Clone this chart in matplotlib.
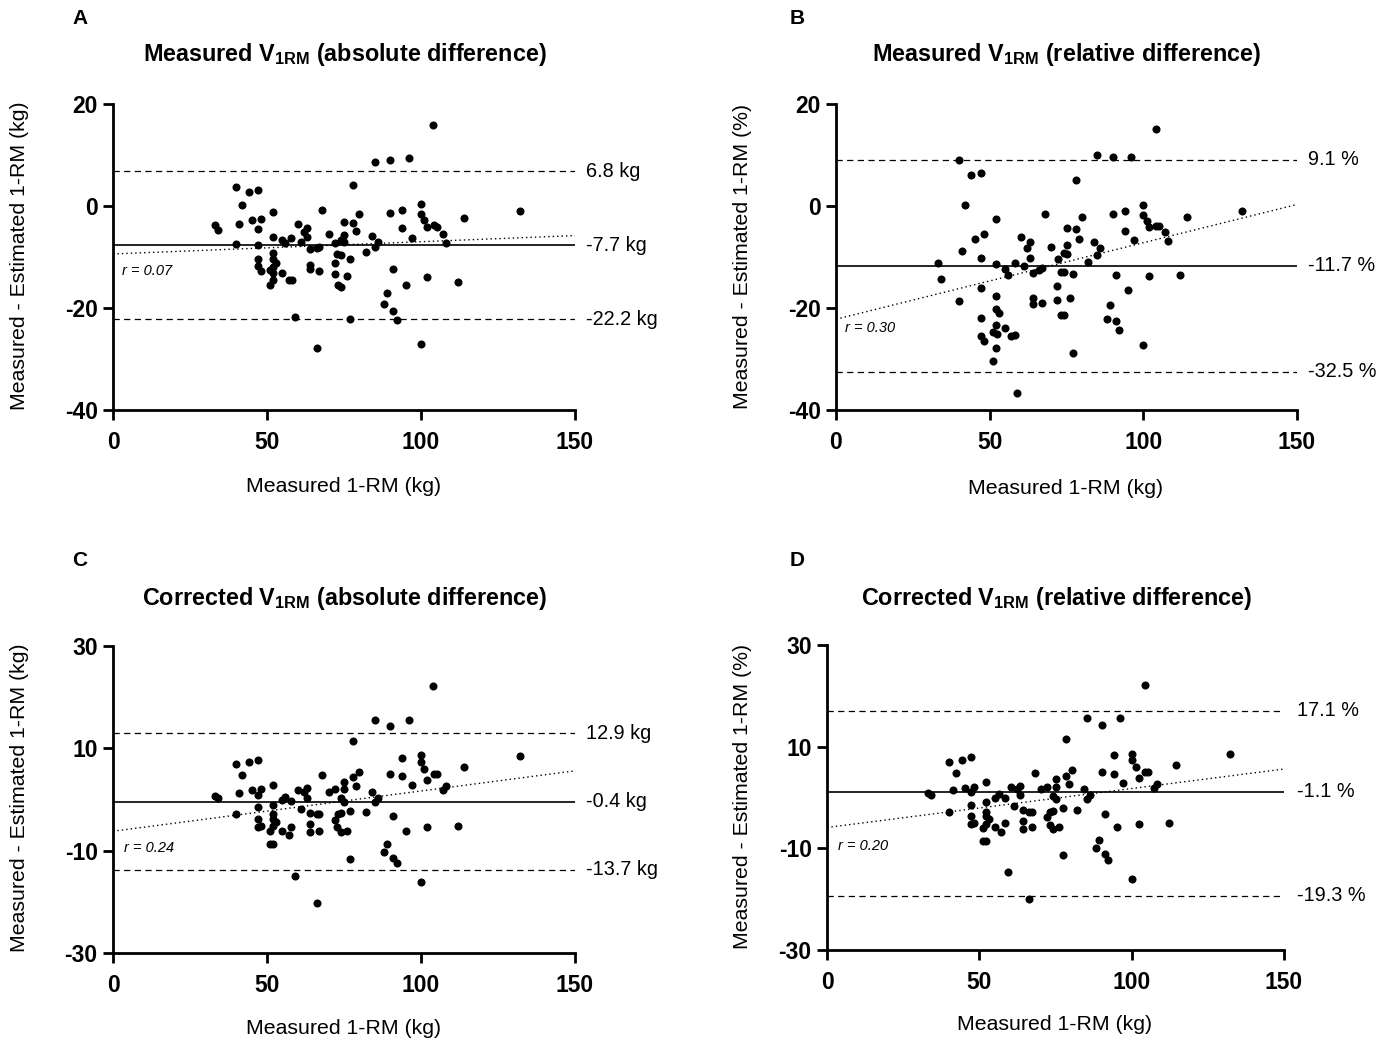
import matplotlib
matplotlib.use('Agg')
import matplotlib.pyplot as plt

plt.rcParams['font.family'] = ['Liberation Sans', 'DejaVu Sans']
plt.rcParams['mathtext.fontset'] = 'custom'
plt.rcParams['mathtext.rm'] = 'Liberation Sans'
plt.rcParams['mathtext.bf'] = 'Liberation Sans:bold'
plt.rcParams['axes.unicode_minus'] = False

# ---- data ----
# A: measured V1RM, absolute difference (kg)
a_x = [85.1, 39.9, 44.0, 47.1, 78.0, 42.0, 52.0, 68.0, 80.0, 33.1, 34.0, 41.0, 45.0, 48.1, 47.1, 60.1,
       63.0, 62.0, 70.0, 75.1, 78.0, 79.0, 75.1, 84.0, 52.0, 54.9, 56.0, 57.9, 61.0, 63.0, 40.0, 47.1,
       64.0, 66.1, 67.0, 72.1, 74.0, 75.1, 85.1, 86.1, 52.0, 47.1, 52.0, 52.9, 72.8, 74.0, 76.9, 82.0,
       47.1, 48.1, 51.1, 52.0, 51.8, 64.0, 64.0, 67.0, 72.1, 55.0, 72.1, 76.1, 52.0, 51.1, 57.1, 58.1,
       72.9, 74.0, 59.1, 76.9, 66.1,
       104.0, 90.0, 96.1, 90.0, 93.9, 100.0, 100.0, 101.1, 102.1, 104.1, 105.1, 107.0, 108.1, 114.0,
       132.0, 93.9, 97.0, 91.0, 95.0, 102.1, 112.0, 89.1, 88.0, 91.0, 92.1, 100.0]
a_y = [8.7, 3.8, 2.8, 3.2, 4.1, 0.2, -1.1, -0.8, -1.6, -3.7, -4.8, -3.5, -2.8, -2.5, -4.6, -3.5,
       -4.3, -5.1, -5.4, -3.1, -3.4, -5.0, -5.6, -5.9, -6.0, -6.7, -7.3, -6.3, -7.1, -6.1, -7.5, -7.6,
       -8.4, -8.3, -8.0, -7.3, -6.7, -7.0, -8.0, -7.0, -9.3, -10.3, -10.3, -11.2, -9.4, -9.6, -10.3, -9.0,
       -11.8, -12.7, -12.5, -13.1, -11.9, -11.6, -12.3, -12.7, -11.2, -13.1, -13.3, -13.7, -14.5, -15.5, -14.6, -14.6,
       -15.5, -15.9, -21.8, -22.2, -27.8,
       15.9, 9.0, 9.4, -1.3, -0.8, 0.3, -1.5, -2.8, -4.1, -3.8, -4.1, -5.4, -7.3, -2.4,
       -1.0, -4.4, -6.3, -12.3, -15.5, -14.0, -14.9, -17.1, -19.3, -20.5, -22.3, -27.1]

# B: measured V1RM, relative difference (%)
b_x = [85.0, 40.1, 44.0, 47.1, 78.1, 42.1, 52.1, 68.1, 80.1, 45.1, 48.0, 41.0, 47.1, 60.1, 63.0, 62.0,
       63.1, 70.1, 72.1, 75.1, 75.1, 74.1, 75.2, 78.1, 79.1, 84.1, 86.0, 85.0, 82.0,
       33.1, 34.2, 40.1, 47.1, 47.1, 47.1, 48.2, 52.1, 52.1, 53.1, 52.1, 51.1, 52.3, 55.1, 57.0, 58.1,
       52.1, 51.1, 59.0, 52.1, 55.1, 56.1, 58.1, 61.1, 64.1, 66.1, 67.0, 64.1, 64.1, 67.0, 72.0, 72.0,
       73.1, 74.1, 77.0, 76.0, 73.1, 74.1, 77.0,
       104.0, 90.0, 96.0, 132.0, 114.1, 100.0, 100.0, 101.1, 102.0, 104.0, 105.1, 107.1, 108.0, 90.0,
       94.0, 94.0, 97.0, 91.0, 102.0, 111.9, 95.0, 89.1, 88.1, 91.0, 92.1, 100.0]
b_y = [10.0, 9.1, 6.1, 6.5, 5.0, 0.1, -2.5, -1.6, -2.2, -6.5, -5.4, -8.8, -10.2, -6.1, -7.0, -8.3,
       -10.1, -8.0, -10.3, -4.4, -7.6, -9.2, -9.4, -4.6, -6.5, -7.1, -8.2, -9.7, -11.0,
       -11.2, -14.3, -18.6, -16.1, -22.0, -25.4, -26.5, -17.6, -20.2, -21.0, -23.4, -24.8, -25.1, -23.9, -25.5, -25.2,
       -27.8, -30.4, -36.7, -11.4, -12.4, -13.5, -11.1, -11.7, -13.1, -12.5, -12.2, -18.0, -19.3, -19.0, -15.6, -18.4,
       -12.9, -12.9, -13.3, -18.1, -21.4, -21.4, -28.8,
       15.1, 9.6, 9.6, -0.9, -2.2, 0.1, -1.8, -2.9, -4.2, -4.0, -4.0, -5.1, -6.8, -1.6,
       -1.0, -4.9, -6.6, -13.6, -13.8, -13.5, -16.5, -19.4, -22.1, -22.6, -24.3, -27.2]

# C: corrected V1RM, absolute difference (kg)
c_x = [85.1, 78.0, 40.0, 44.0, 47.1, 42.0, 68.0, 80.0, 52.0, 78.0, 75.1, 79.0, 33.1, 34.1, 41.0, 45.0,
       48.1, 47.1, 60.1, 63.0, 62.0, 63.0, 70.0, 72.1, 75.1, 84.0, 55.0, 56.0, 57.9, 74.1, 75.1, 85.1,
       86.0, 52.0, 47.1, 61.0, 76.9, 40.0, 52.0, 64.0, 66.1, 67.0, 72.9, 74.0, 82.0, 47.1, 52.0, 52.9,
       72.1, 47.1, 48.1, 52.0, 51.1, 57.9, 64.0, 72.8, 55.0, 57.1, 64.0, 67.0, 74.0, 76.1, 51.1, 52.0,
       76.9, 59.1, 66.1,
       104.0, 90.0, 96.1, 132.0, 93.9, 100.0, 100.0, 101.1, 104.1, 105.1, 114.0, 90.0, 93.9, 102.1,
       97.0, 108.1, 107.0, 91.0, 95.0, 102.1, 112.0, 89.1, 88.0, 91.0, 92.1, 100.0]
c_y = [15.6, 11.5, 6.9, 7.3, 7.8, 4.7, 4.8, 5.4, 2.9, 4.3, 3.5, 2.6, 0.6, 0.3, 1.2, 1.8,
       2.0, 0.8, 1.9, 2.2, 1.4, 0.3, 1.4, 2.0, 2.0, 1.4, -0.1, 0.4, -0.2, 0.3, -0.4, -0.4,
       0.3, -1.0, -1.5, -1.8, -2.2, -2.9, -2.9, -2.6, -2.9, -2.9, -2.9, -2.7, -2.5, -3.8, -3.8, -4.4,
       -4.1, -5.4, -5.2, -5.2, -6.1, -5.4, -4.8, -5.4, -6.1, -6.9, -6.3, -6.1, -6.3, -6.1, -8.6, -8.6,
       -11.6, -15.0, -20.3,
       22.2, 14.3, 15.6, 8.5, 8.2, 8.6, 7.3, 5.9, 5.0, 4.9, 6.3, 4.9, 4.6, 3.9,
       2.9, 2.6, 1.8, -3.3, -6.1, -5.4, -5.2, -8.6, -10.3, -11.5, -12.5, -16.2]

# D: corrected V1RM, relative difference (%)
d_x = [85.2, 78.3, 40.2, 44.2, 47.3, 42.2, 68.2, 80.3, 52.3, 78.3, 75.3, 79.3, 33.1, 34.2, 41.2, 45.2,
       48.3, 47.3, 60.3, 63.3, 62.3, 63.3, 70.3, 72.3, 75.3, 84.3, 55.3, 56.3, 58.4, 74.2, 75.3, 85.2,
       86.3, 52.3, 47.3, 61.3, 77.3, 40.2, 52.3, 64.3, 66.2, 67.2, 73.3, 74.2, 82.2, 47.3, 52.3, 53.3,
       72.3, 47.3, 48.3, 52.3, 51.3, 58.3, 64.3, 73.3, 55.3, 57.2, 64.3, 67.2, 74.2, 76.3, 51.3, 52.3,
       77.3, 59.3, 66.2,
       104.4, 90.4, 96.3, 132.3, 94.3, 100.2, 100.2, 101.3, 104.4, 105.4, 114.4, 90.4, 94.3, 102.3,
       97.3, 108.3, 107.3, 91.2, 95.3, 102.3, 112.3, 89.3, 88.3, 91.2, 92.3, 100.2]
d_y = [15.7, 11.5, 6.9, 7.4, 8.0, 4.8, 4.9, 5.5, 3.1, 4.3, 3.6, 2.7, 0.8, 0.4, 1.4, 1.9,
       2.1, 1.0, 2.0, 2.3, 1.6, 0.4, 1.7, 2.1, 2.0, 1.6, -0.1, 0.6, -0.1, 0.3, -0.3, -0.3,
       0.4, -0.9, -1.4, -1.7, -2.0, -2.8, -2.8, -2.5, -2.8, -2.8, -2.8, -2.6, -2.4, -3.7, -3.7, -4.3,
       -3.8, -5.3, -5.1, -5.3, -6.0, -5.1, -4.7, -5.4, -5.8, -6.8, -6.1, -5.8, -6.2, -5.9, -8.5, -8.5,
       -11.4, -14.7, -20.0,
       22.1, 14.3, 15.7, 8.5, 8.3, 8.6, 7.3, 6.0, 5.0, 5.0, 6.3, 5.0, 4.6, 3.9,
       2.9, 2.6, 1.9, -3.2, -5.9, -5.2, -5.0, -8.4, -10.0, -11.2, -12.3, -16.0]

# bias / limits of agreement as drawn, and their labels
a_lines = [6.8, -7.7, -22.2]
a_labels = ['6.8 kg', '-7.7 kg', '-22.2 kg']
b_lines = [9.1, -11.7, -32.5]
b_labels = ['9.1 %', '-11.7 %', '-32.5 %']
c_lines = [12.9, -0.4, -13.7]
c_labels = ['12.9 kg', '-0.4 kg', '-13.7 kg']
d_lines = [17.1, 1.1, -19.3]   # the mean line sits at about +1.1 in the figure
d_labels = ['17.1 %', '-1.1 %', '-19.3 %']

# dotted trend lines: y at x=0 and x=150
a_fit = [-9.4, -5.8]
b_fit = [-22.2, 0.3]
c_fit = [-6.2, 5.6]
d_fit = [-5.9, 5.6]

W, H = 1387, 1040
fig = plt.figure(figsize=(W / 100, H / 100), dpi=100)


def rect(l, r, t, b):
    return [l / W, 1 - b / H, (r - l) / W, (b - t) / H]


def panel(box, x, y, lines, labels, fit, rtxt, rpos, ylim, yticks, lab_x):
    ax = fig.add_axes(box)
    ax.plot([0, 150], [lines[0]] * 2, color='black', lw=0.9, ls=(0, (5, 3.5)))
    ax.plot([0, 150], [lines[2]] * 2, color='black', lw=0.9, ls=(0, (5, 3.5)))
    ax.plot([0, 150], [lines[1]] * 2, color='black', lw=1.2)
    ax.plot([0, 150], fit, color='black', lw=1.0, ls=(0, (1, 2.2)))
    ax.plot(x, y, 'o', color='black', ms=5.8, mew=0, clip_on=False)
    for v, s in zip(lines, labels):
        ax.text(lab_x, v, s, ha='left', va='center', fontsize=14.3, clip_on=False)
    ax.text(rpos[0], rpos[1], rtxt, fontsize=10.5, style='italic', ha='left', va='center')
    ax.set_xlim(0, 150)
    ax.set_ylim(*ylim)
    ax.set_xticks([0, 50, 100, 150])
    ax.set_yticks(yticks)
    for sp in ['top', 'right']:
        ax.spines[sp].set_visible(False)
    for sp in ['left', 'bottom']:
        ax.spines[sp].set_linewidth(2.0)
    ax.tick_params(width=2.0, length=7, labelsize=16.5)
    ax.tick_params(axis='x', pad=8)
    ax.tick_params(axis='y', pad=4)
    for t in ax.get_xticklabels() + ax.get_yticklabels():
        t.set_fontweight('bold')
    return ax


panel(rect(113, 575, 104, 410), a_x, a_y, a_lines, a_labels, a_fit, 'r = 0.07', (3, -12.7),
      (-40, 20), [20, 0, -20, -40], 153.5)
panel(rect(836, 1297, 104, 410), b_x, b_y, b_lines, b_labels, b_fit, 'r = 0.30', (3, -23.9),
      (-40, 20), [20, 0, -20, -40], 153.5)
panel(rect(113, 575, 646, 953), c_x, c_y, c_lines, c_labels, c_fit, 'r = 0.24', (3.5, -9.4),
      (-30, 30), [30, 10, -10, -30], 153.5)
panel(rect(827, 1284, 645, 950), d_x, d_y, d_lines, d_labels, d_fit, 'r = 0.20', (3.5, -9.5),
      (-30, 30), [30, 10, -10, -30], 154.3)


def ftext(px, py, s, **kw):
    fig.text(px / W, 1 - py / H, s, **kw)


for px, py, s in [(80, 18, 'A'), (797, 18, 'B'), (80, 560, 'C'), (797, 560, 'D')]:
    ftext(px, py, s, fontsize=15, fontweight='bold', ha='center', va='center')

tkw = dict(fontsize=16.8, fontweight='bold', ha='center', va='center')
ftext(345, 54, r'Measured V$_{\mathbf{1RM}}$ (absolute difference)', **tkw)
ftext(1067, 54, r'Measured V$_{\mathbf{1RM}}$ (relative difference)', **tkw)
ftext(345, 598, r'Corrected V$_{\mathbf{1RM}}$ (absolute difference)', **tkw)
ftext(1056, 598, r'Corrected V$_{\mathbf{1RM}}$ (relative difference)', **tkw)

lkw = dict(fontsize=15.3, rotation=90, ha='center', va='center')
ftext(20, 256, 'Measured - Estimated 1-RM (kg)', **lkw)
ftext(742, 256, 'Measured - Estimated 1-RM (%)', **lkw)
ftext(20, 798, 'Measured - Estimated 1-RM (kg)', **lkw)
ftext(742, 796, 'Measured - Estimated 1-RM (%)', **lkw)

xkw = dict(fontsize=15.3, ha='center', va='center')
ftext(344, 487, 'Measured 1-RM (kg)', **xkw)
ftext(1066, 488, 'Measured 1-RM (kg)', **xkw)
ftext(344, 1028, 'Measured 1-RM (kg)', **xkw)
ftext(1055, 1024, 'Measured 1-RM (kg)', **xkw)

fig.savefig('out.png', dpi=100)
